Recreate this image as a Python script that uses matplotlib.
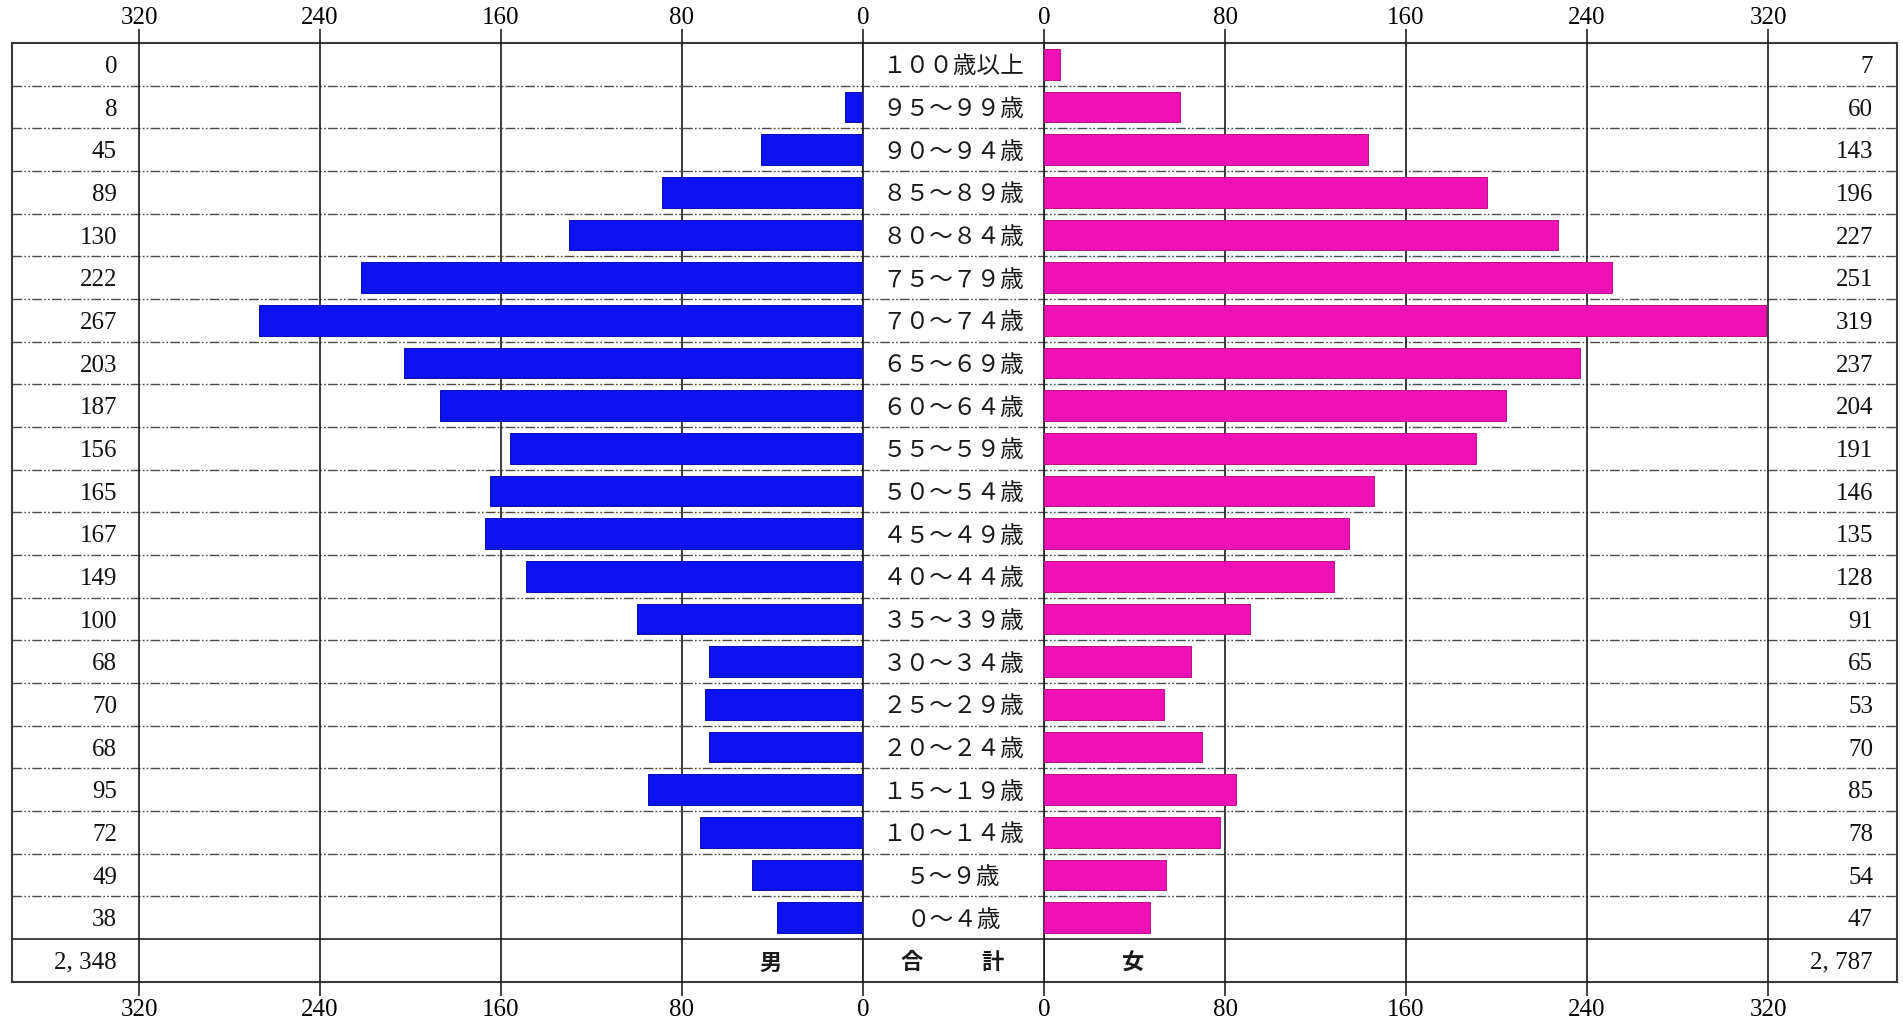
import matplotlib
matplotlib.use("Agg")
import numpy as np
import matplotlib.pyplot as plt
from matplotlib.transforms import blended_transform_factory

# Population by five-year age group (top row = oldest)
age_groups = [
    "１００歳以上", "９５～９９歳", "９０～９４歳", "８５～８９歳", "８０～８４歳",
    "７５～７９歳", "７０～７４歳", "６５～６９歳", "６０～６４歳", "５５～５９歳",
    "５０～５４歳", "４５～４９歳", "４０～４４歳", "３５～３９歳", "３０～３４歳",
    "２５～２９歳", "２０～２４歳", "１５～１９歳", "１０～１４歳", "５～９歳", "０～４歳",
]
male = [0, 8, 45, 89, 130, 222, 267, 203, 187, 156, 165, 167, 149, 100, 68, 70, 68, 95, 72, 49, 38]
female = [7, 60, 143, 196, 227, 251, 319, 237, 204, 191, 146, 135, 128, 91, 65, 53, 70, 85, 78, 54, 47]
axis_ticks = [0, 80, 160, 240, 320]
male_label, total_label, female_label = "男", ("合", "計"), "女"

BLUE = "#0C12F2"
BLUE_EDGE = "#0A0AB0"
MAGENTA = "#EE12B6"
MAGENTA_EDGE = "#B80E8C"
SERIF = ["Liberation Serif", "DejaVu Serif"]
CJK = ["Noto Sans CJK JP", "DejaVu Sans"]

W, H = 1903, 1025
fig = plt.figure(figsize=(W / 100, H / 100), dpi=100)
fig.patch.set_facecolor("white")

# layout in pixels
fl, fr, ft, fb = 11.7, 1896.7, 43.0, 981.7   # outer table frame
lz, rz = 863.0, 1044.0                        # zero lines of the two halves
px_per_person = 2.2625


def fx(px):
    return px / W


def fy(py):
    return 1 - py / H


n = len(age_groups)
nrows = n + 1
rows = np.arange(n) + 0.5
text_dy = 0.06  # small downward nudge so glyphs sit centred in each row

# table frame with row separators
frame = fig.add_axes([fx(fl), fy(fb), fx(fr) - fx(fl), fy(ft) - fy(fb)])
frame.set_xlim(0, 1)
frame.set_ylim(nrows, 0)
frame.set_xticks([])
frame.set_yticks([])
for s in frame.spines.values():
    s.set_color("#3a3a3a")
    s.set_linewidth(1.5)
for i in range(1, n):
    frame.axhline(i, color="#4a4a4a", lw=1.0,
                  ls=(0, (7, 1.6, 1.2, 1.6, 1.2, 1.6)))
frame.axhline(n, color="#333333", lw=1.3)


def style_ticks(axis_obj, pad):
    axis_obj.set_ticks(axis_ticks)
    axis_obj.set_ticklabels([str(t) for t in axis_ticks])
    axis_obj.set_tick_params(direction="out", length=10, width=1.2,
                             color="#222222", labelsize=18, pad=pad)
    for t in axis_obj.get_major_ticks():
        t.label1.set_family(SERIF)
        t.label2.set_family(SERIF)


def half_axes(x0, x1, xlim):
    ax = fig.add_axes([fx(x0), fy(fb), fx(x1) - fx(x0), fy(ft) - fy(fb)])
    ax.patch.set_visible(False)
    ax.set_xlim(*xlim)
    ax.set_ylim(nrows, 0)
    ax.set_yticks([])
    for s in ax.spines.values():
        s.set_visible(False)
    style_ticks(ax.xaxis, pad=2.5)
    ax.grid(axis="x", color="#1a1a1a", lw=1.2)
    ax.set_axisbelow(True)
    ax.axvline(0, color="#1a1a1a", lw=1.2, clip_on=False, zorder=1)
    top = ax.secondary_xaxis("top")
    for s in top.spines.values():
        s.set_visible(False)
    style_ticks(top.xaxis, pad=0)
    return ax


axL = half_axes(fl, lz, ((lz - fl) / px_per_person, 0))
axR = half_axes(rz, fr, (0, (fr - rz) / px_per_person))

axL.barh(rows, male, height=0.72, color=BLUE, edgecolor=BLUE_EDGE, lw=0.7, zorder=3)
axR.barh(rows, female, height=0.72, color=MAGENTA, edgecolor=MAGENTA_EDGE, lw=0.7, zorder=3)

trans = blended_transform_factory(fig.transFigure, frame.transData)

for y, m, f, lab in zip(rows, male, female, age_groups):
    frame.text(fx(117), y + text_dy, str(m), transform=trans, ha="right", va="center",
               fontsize=18, family=SERIF, color="#111111")
    frame.text(fx(1873), y + text_dy, str(f), transform=trans, ha="right", va="center",
               fontsize=18, family=SERIF, color="#111111")
    frame.text(fx(953.5), y + text_dy, lab, transform=trans, ha="center", va="center",
               fontsize=17, family=CJK, color="#1a1a1a")


def fmt_total(v):
    return f"{v:,}".replace(",", ", ")


ty = n + 0.5 + text_dy
frame.text(fx(117), ty, fmt_total(sum(male)), transform=trans, ha="right",
           va="center", fontsize=18, family=SERIF, color="#111111")
frame.text(fx(1873), ty, fmt_total(sum(female)), transform=trans, ha="right",
           va="center", fontsize=18, family=SERIF, color="#111111")
for xpix, s in [(770, male_label), (912, total_label[0]),
                (992, total_label[1]), (1133, female_label)]:
    frame.text(fx(xpix), ty, s, transform=trans, ha="center", va="center",
               fontsize=16, family=CJK, fontweight="bold", color="#1a1a1a")

fig.savefig("out.png", dpi=100, facecolor="white")
